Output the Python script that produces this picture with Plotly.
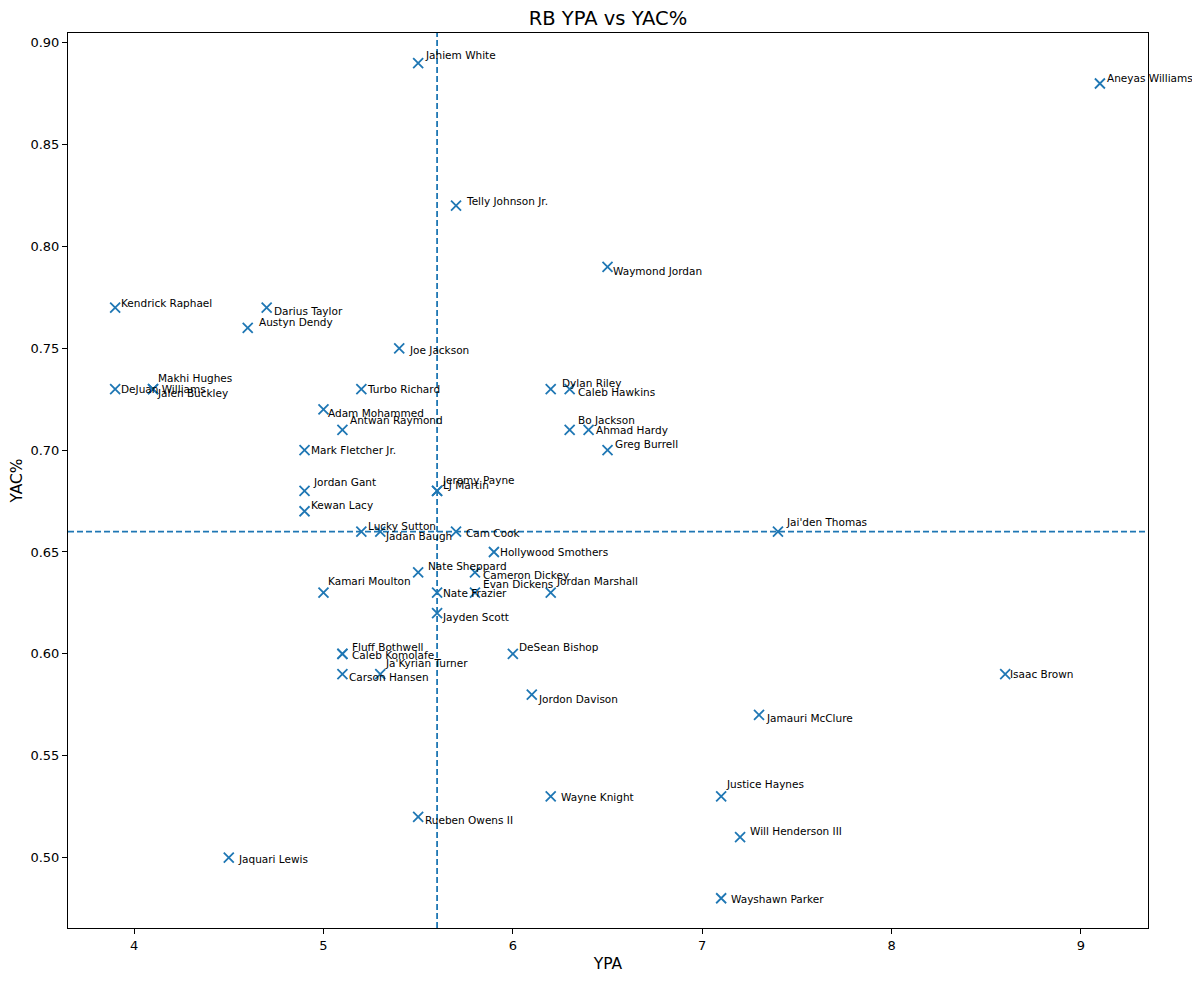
import plotly.graph_objects as go

players = [
    "Jahiem White", "Aneyas Williams", "Telly Johnson Jr.", "Waymond Jordan",
    "Kendrick Raphael", "Darius Taylor", "Austyn Dendy", "Joe Jackson",
    "DeJuan Williams", "Makhi Hughes", "Jalen Buckley", "Turbo Richard",
    "Adam Mohammed", "Antwan Raymond", "Mark Fletcher Jr.", "Dylan Riley",
    "Caleb Hawkins", "Bo Jackson", "Ahmad Hardy", "Greg Burrell",
    "Jordan Gant", "Kewan Lacy", "Jeremy Payne", "LJ Martin",
    "Lucky Sutton", "Jadan Baugh", "Cam Cook", "Jai'den Thomas",
    "Hollywood Smothers", "Nate Sheppard", "Cameron Dickey", "Kamari Moulton",
    "Nate Frazier", "Evan Dickens", "Jordan Marshall", "Jayden Scott",
    "Fluff Bothwell", "Caleb Komolafe", "Carson Hansen", "Ja'Kyrian Turner",
    "DeSean Bishop", "Jordon Davison", "Isaac Brown", "Jamauri McClure",
    "Justice Haynes", "Wayne Knight", "Rueben Owens II", "Will Henderson III",
    "Jaquari Lewis", "Wayshawn Parker",
]
ypa = [
    5.5, 9.1, 5.7, 6.5,
    3.9, 4.7, 4.6, 5.4,
    3.9, 4.1, 4.1, 5.2,
    5.0, 5.1, 4.9, 6.2,
    6.3, 6.3, 6.4, 6.5,
    4.9, 4.9, 5.6, 5.6,
    5.2, 5.3, 5.7, 7.4,
    5.9, 5.5, 5.8, 5.0,
    5.6, 5.8, 6.2, 5.6,
    5.1, 5.1, 5.1, 5.3,
    6.0, 6.1, 8.6, 7.3,
    7.1, 6.2, 5.5, 7.2,
    4.5, 7.1,
]
yac_pct = [
    0.89, 0.88, 0.82, 0.79,
    0.77, 0.77, 0.76, 0.75,
    0.73, 0.73, 0.73, 0.73,
    0.72, 0.71, 0.70, 0.73,
    0.73, 0.71, 0.71, 0.70,
    0.68, 0.67, 0.68, 0.68,
    0.66, 0.66, 0.66, 0.66,
    0.65, 0.64, 0.64, 0.63,
    0.63, 0.63, 0.63, 0.62,
    0.60, 0.60, 0.59, 0.59,
    0.60, 0.58, 0.59, 0.57,
    0.53, 0.53, 0.52, 0.51,
    0.50, 0.48,
]
ypa_ref = 5.6
yac_ref = 0.66

# label offsets in pixels (dx right, dy down) – styling only
label_offsets = [
    (5, -8), (5, -6), (8, -5), (3, 4),
    (4, -5), (5, 3), (9, -6), (8, 2),
    (4, 0), (3, -11), (2, 4), (4, 0),
    (3, 4), (6, -10), (4, 0), (9, -6),
    (6, 3), (6, -10), (5, 0), (5, -6),
    (6, -9), (4, -6), (3, -11), (4, -6),
    (5, -6), (3, 4), (8, 1), (6, -10),
    (4, 0), (8, -6), (6, 3), (3, -12),
    (4, 0), (6, -9), (3, -12), (3, 4),
    (8, -7), (8, 1), (5, 3), (3, -11),
    (4, -7), (4, 4), (3, 0), (5, 3),
    (3, -12), (8, 1), (5, 3), (8, -6),
    (7, 1), (8, 1),
]

BLUE = "#1f77b4"
FONT = "DejaVu Sans"
W, H = 1192, 973  # page has an 8px body margin

fig = go.Figure()
fig.add_trace(go.Scatter(
    x=ypa, y=yac_pct, mode="markers",
    marker=dict(symbol="x-thin", size=10, color=BLUE,
                line=dict(color=BLUE, width=1.8)),
    hovertext=players, showlegend=False,
))

fig.add_vline(x=ypa_ref, line=dict(color=BLUE, width=1.8, dash="6px,3px"))
fig.add_hline(y=yac_ref, line=dict(color=BLUE, width=1.8, dash="6px,3px"))

for name, x, y, (dx, dy) in zip(players, ypa, yac_pct, label_offsets):
    fig.add_annotation(
        x=x, y=y, text=name, showarrow=False,
        xanchor="left", yanchor="middle",
        xshift=dx, yshift=-dy,
        font=dict(family=FONT, size=10.5, color="black"),
    )

axis_common = dict(
    showgrid=False, zeroline=False, showline=True, mirror=True,
    linecolor="black", linewidth=1, ticks="outside", ticklen=5,
    tickwidth=1, tickcolor="black", automargin=False,
    tickfont=dict(family=FONT, size=13, color="black"),
    title_font=dict(family=FONT, size=15.5, color="black"),
)

fig.update_layout(
    width=W, height=H,
    margin=dict(l=60, r=52, t=25, b=53),
    plot_bgcolor="white", paper_bgcolor="white",
    title=dict(text="RB YPA vs YAC%", x=0.5, xref="paper",
               y=1, yref="container", yanchor="top",
               pad=dict(t=3, b=0, l=0, r=0),
               font=dict(family=FONT, size=19.5, color="black")),
    xaxis=dict(range=[3.651, 9.354], tickvals=[4, 5, 6, 7, 8, 9],
               title=dict(text="YPA", standoff=6), **axis_common),
    yaxis=dict(range=[0.4654, 0.9048],
               tickvals=[0.50, 0.55, 0.60, 0.65, 0.70, 0.75, 0.80, 0.85, 0.90],
               tickformat=".2f",
               title=dict(text="YAC%", standoff=8), **axis_common),
)

fig.write_html("out.html")
